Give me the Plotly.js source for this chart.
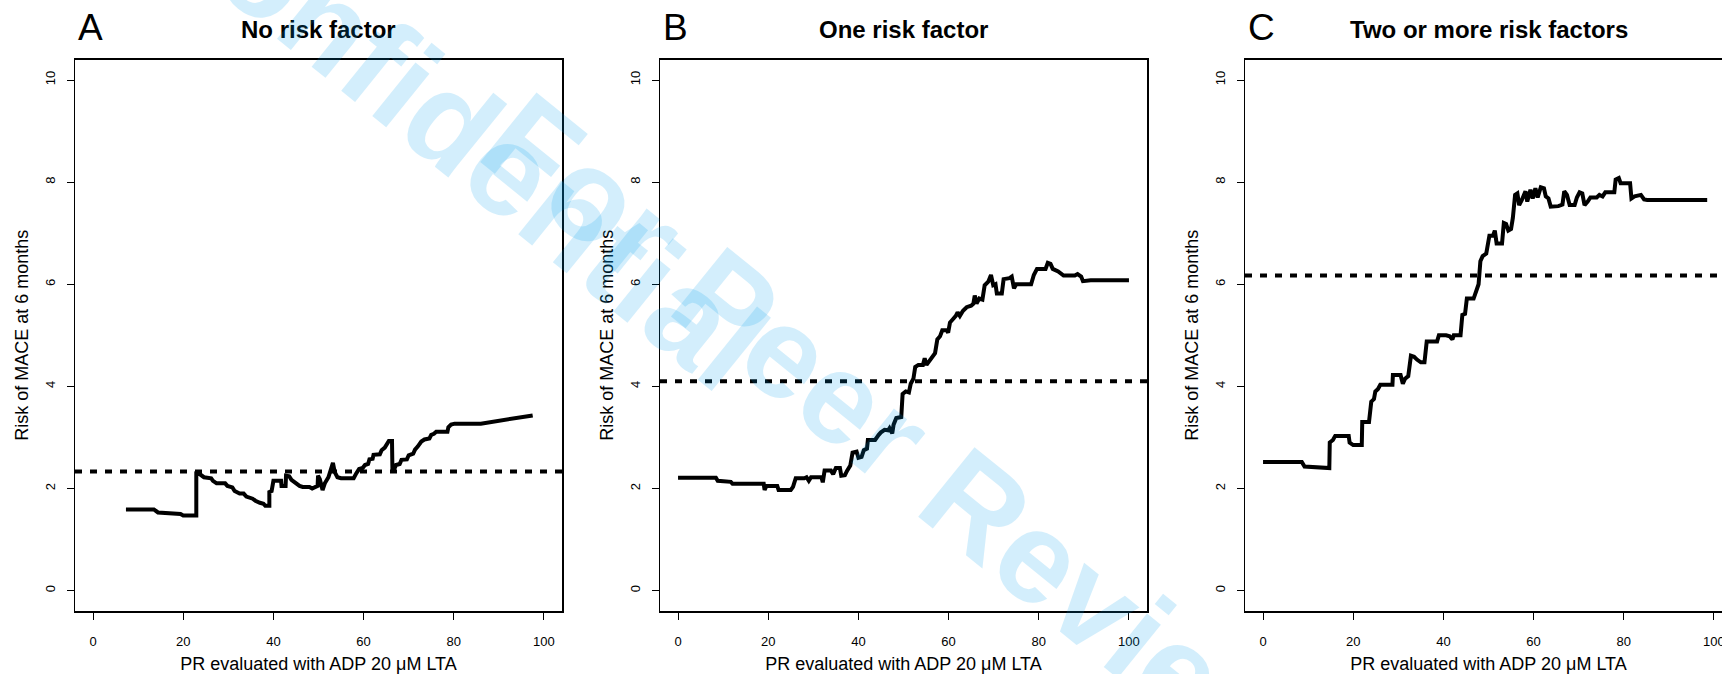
<!DOCTYPE html>
<html>
<head>
<meta charset="utf-8">
<script src="https://cdn.plot.ly/plotly-3.0.1.min.js"></script>
<style>
  html, body { margin: 0; padding: 0; overflow: hidden; background: #fff; }
  #chart { width: 1760px; height: 674px; }
</style>
</head>
<body>
<div id="chart"></div>
<script>
// Panel headings
const panelLetters = ["A", "B", "C"];
const panelTitles = ["No risk factor", "One risk factor", "Two or more risk factors"];

// Axis text and ticks
const xAxisTitle = "PR evaluated with ADP 20 \u03BCM LTA";
const yAxisTitle = "Risk of MACE at 6 months";
const xTickVals = [0, 20, 40, 60, 80, 100];
const yTickVals = [0, 2, 4, 6, 8, 10];

// Panel A: no risk factor
const prA = [7.3, 13.5, 14.4, 17.7, 19.4, 20.0, 22.9, 22.9, 23.8, 24.6, 26.2, 26.6, 27.4, 29.3, 29.8, 30.9, 31.4, 32.5, 33.4, 34.0,
  35.4, 36.0, 37.0, 37.8, 38.2, 39.1, 39.1, 39.6, 40.0, 41.7, 41.8, 42.7, 42.8, 43.5, 44.0, 45.0, 45.8, 46.5, 48.0, 48.6,
  49.4, 49.8, 49.9, 50.3, 50.9, 51.4, 52.2, 52.8, 53.2, 53.6, 54.2, 55.0, 57.8, 58.4, 59.0, 59.8, 60.3, 61.0, 61.3, 62.0,
  62.2, 63.6, 64.0, 64.7, 65.3, 65.6, 66.3, 66.4, 66.8, 67.2, 68.0, 68.4, 69.6, 70.0, 71.0, 71.4, 72.0, 72.8, 73.5, 74.6,
  75.0, 75.6, 76.1, 78.6, 78.8, 79.4, 80.2, 86.0, 97.5];
const riskA = [1.59, 1.59, 1.53, 1.52, 1.50, 1.47, 1.47, 2.33, 2.28, 2.22, 2.20, 2.15, 2.10, 2.10, 2.05, 2.02, 1.95, 1.90, 1.90, 1.84,
  1.80, 1.76, 1.72, 1.70, 1.66, 1.66, 1.93, 1.95, 2.15, 2.15, 2.05, 2.05, 2.25, 2.24, 2.17, 2.10, 2.05, 2.03, 2.03, 2.00,
  2.02, 2.05, 2.25, 2.18, 1.97, 2.10, 2.22, 2.38, 2.50, 2.32, 2.22, 2.20, 2.20, 2.30, 2.38, 2.40, 2.46, 2.48, 2.57, 2.58,
  2.66, 2.67, 2.75, 2.80, 2.88, 2.93, 2.93, 2.35, 2.38, 2.46, 2.48, 2.56, 2.57, 2.65, 2.68, 2.76, 2.82, 2.92, 2.96, 2.98,
  3.05, 3.07, 3.11, 3.11, 3.20, 3.25, 3.27, 3.27, 3.43];

// Panel B: one risk factor
const prB = [0, 8.4, 8.8, 11.7, 12.1, 19.0, 19.2, 19.6, 22.0, 22.3, 25.0, 25.5, 26.1, 28.0, 28.5, 29.0, 29.5, 31.8, 32.1, 32.5,
  33.9, 34.4, 35.0, 35.9, 36.2, 37.0, 37.5, 38.2, 38.7, 39.6, 40.0, 40.7, 41.2, 41.9, 42.1, 43.7, 44.5, 45.0, 45.8, 46.6,
  46.9, 47.5, 47.8, 48.4, 49.5, 49.8, 50.5, 51.2, 51.6, 52.2, 52.6, 53.3, 54.3, 54.7, 55.1, 55.8, 56.5, 57.0, 57.5, 58.1,
  58.6, 59.6, 59.9, 60.3, 61.0, 61.6, 62.0, 62.5, 63.2, 64.0, 65.0, 65.5, 65.8, 66.2, 66.8, 67.5, 68.0, 68.8, 69.4, 69.9,
  70.4, 70.7, 71.8, 72.2, 73.5, 74.0, 74.5, 75.0, 78.3, 78.9, 79.6, 81.5, 82.0, 82.6, 83.1, 84.3, 85.5, 88.0, 88.6, 89.4,
  89.8, 91.5, 100];
const riskB = [2.21, 2.21, 2.15, 2.13, 2.09, 2.09, 1.97, 2.05, 2.05, 1.97, 1.97, 2.03, 2.20, 2.20, 2.22, 2.15, 2.22, 2.22, 2.12, 2.35,
  2.35, 2.28, 2.40, 2.40, 2.25, 2.26, 2.35, 2.45, 2.70, 2.72, 2.60, 2.62, 2.75, 2.78, 2.95, 2.95, 3.05, 3.10, 3.15, 3.14,
  3.18, 3.08, 3.25, 3.38, 3.40, 3.85, 3.90, 3.88, 4.05, 4.15, 4.38, 4.42, 4.42, 4.55, 4.42, 4.50, 4.60, 4.65, 4.92, 4.98,
  5.10, 5.10, 5.05, 5.25, 5.32, 5.38, 5.45, 5.38, 5.48, 5.55, 5.58, 5.62, 5.78, 5.62, 5.72, 5.70, 5.98, 6.05, 6.18, 5.98,
  6.00, 5.82, 5.82, 6.10, 6.12, 6.15, 5.92, 6.00, 6.00, 6.18, 6.30, 6.30, 6.42, 6.40, 6.30, 6.25, 6.17, 6.17, 6.20, 6.15,
  6.06, 6.08, 6.08];

// Panel C: two or more risk factors
const prC = [0, 8.6, 9.2, 11.8, 12.2, 14.7, 14.8, 15.5, 16.0, 19.0, 19.2, 20.0, 21.9, 22.0, 23.5, 24.0, 24.6, 24.9, 25.5, 26.0,
  28.7, 28.8, 30.5, 31.0, 31.5, 32.2, 32.8, 33.5, 34.2, 35.0, 35.8, 36.3, 38.6, 39.0, 40.6, 41.4, 42.0, 42.3, 43.8, 44.2,
  44.8, 45.2, 46.7, 47.2, 47.8, 48.2, 48.7, 49.5, 50.2, 51.0, 51.4, 51.8, 53.0, 53.4, 53.9, 54.4, 55.0, 55.4, 55.9, 56.4,
  56.8, 57.4, 58.2, 58.6, 59.3, 59.8, 60.4, 60.9, 61.6, 62.3, 62.7, 63.3, 63.8, 65.5, 66.4, 66.8, 67.4, 68.0, 69.1, 69.6,
  70.2, 70.8, 71.3, 72.0, 72.6, 74.0, 74.6, 75.3, 75.9, 77.9, 78.2, 78.9, 79.3, 81.4, 81.7, 82.4, 83.8, 84.5, 85.2, 98.5];
const riskC = [2.52, 2.52, 2.43, 2.42, 2.40, 2.40, 2.90, 2.95, 3.03, 3.03, 2.90, 2.85, 2.85, 3.30, 3.30, 3.70, 3.75, 3.90, 3.95, 4.03,
  4.03, 4.22, 4.22, 4.05, 4.15, 4.20, 4.60, 4.58, 4.52, 4.47, 4.47, 4.88, 4.88, 5.00, 5.00, 4.98, 4.92, 5.00, 5.00, 5.40,
  5.42, 5.72, 5.72, 5.85, 6.00, 6.45, 6.55, 6.60, 6.95, 6.95, 7.05, 6.80, 6.80, 7.20, 7.18, 7.05, 7.08, 7.30, 7.75, 7.78,
  7.55, 7.65, 7.82, 7.62, 7.85, 7.68, 7.88, 7.70, 7.90, 7.88, 7.72, 7.68, 7.52, 7.53, 7.56, 7.82, 7.75, 7.55, 7.55, 7.70,
  7.80, 7.78, 7.55, 7.62, 7.70, 7.70, 7.75, 7.72, 7.80, 7.80, 8.05, 8.08, 7.98, 7.98, 7.68, 7.72, 7.75, 7.66, 7.65, 7.65];

// Overall risk in each group (horizontal reference lines)
const meanRisk = [2.33, 4.10, 6.17];

// Review watermark
const watermarkTexts = ["Confidential", "For Peer Review"];

const seriesX = [prA, prB, prC];
const seriesY = [riskA, riskB, riskC];

const W = 1760, H = 674;
const boxLeft = [75, 660, 1245];
const boxWidth = 487;
const boxTop = 59.6, boxBottom = 611;
const FONT = "Liberation Sans, Arial, Helvetica, sans-serif";

const traces = [];
const layout = {
  width: W, height: H,
  margin: { l: 0, r: 0, t: 0, b: 0 },
  paper_bgcolor: "#ffffff",
  plot_bgcolor: "#ffffff",
  showlegend: false,
  font: { family: FONT, color: "#000" },
  shapes: [],
  annotations: []
};

for (let i = 0; i < 3; i++) {
  const sfx = i === 0 ? "" : String(i + 1);
  traces.push({
    type: "scatter", mode: "lines",
    x: seriesX[i], y: seriesY[i],
    xaxis: "x" + sfx, yaxis: "y" + sfx,
    line: { color: "#000", width: 4 },
    hoverinfo: "skip"
  });

  const common = {
    showgrid: false, zeroline: false,
    showline: true, mirror: true, linecolor: "#000", linewidth: 1.5,
    ticks: "outside", ticklen: 7, tickwidth: 1, tickcolor: "#000",
    tickfont: { family: FONT, size: 13, color: "#000" },
    fixedrange: true
  };
  layout["xaxis" + sfx] = Object.assign({}, common, {
    domain: [boxLeft[i] / W, (boxLeft[i] + boxWidth) / W],
    anchor: "y" + sfx,
    range: [-4, 104],
    tickmode: "array", tickvals: xTickVals, ticktext: xTickVals.map(String),
    ticklabelstandoff: 11,
    title: { text: xAxisTitle, font: { family: FONT, size: 18, color: "#000" }, standoff: 10 }
  });
  layout["yaxis" + sfx] = Object.assign({}, common, {
    domain: [(H - boxBottom) / H, (H - boxTop) / H],
    anchor: "x" + sfx,
    range: [-0.4, 10.4],
    tickmode: "array", tickvals: yTickVals, ticktext: yTickVals.map(String),
    tickangle: -90,
    ticklabelstandoff: 6,
    title: { text: yAxisTitle, font: { family: FONT, size: 18, color: "#000" }, standoff: 10 }
  });

  layout.shapes.push({
    type: "line", xref: "x" + sfx + " domain", yref: "y" + sfx,
    x0: 0, x1: 1, y0: meanRisk[i], y1: meanRisk[i],
    line: { color: "#000", width: 4, dash: "7px,8px" }
  });

  layout.annotations.push({
    xref: "paper", yref: "paper",
    x: (boxLeft[i] + 1) / W, y: 1 - 28 / H,
    xanchor: "left", yanchor: "middle",
    text: panelLetters[i], showarrow: false,
    font: { family: FONT, size: 37, color: "#000" }
  });
  layout.annotations.push({
    xref: "paper", yref: "paper",
    x: (boxLeft[i] + boxWidth / 2) / W, y: 1 - 30 / H,
    xanchor: "center", yanchor: "middle",
    text: "<b>" + panelTitles[i] + "</b>", showarrow: false,
    font: { family: FONT, size: 24, color: "#000" }
  });
}

// Diagonal watermark, translucent so the curves stay dark beneath it
const wmCenters = [[455, 125], [895, 440]];
watermarkTexts.forEach((t, k) => {
  layout.annotations.push({
    xref: "paper", yref: "paper",
    x: wmCenters[k][0] / W, y: 1 - wmCenters[k][1] / H,
    xanchor: "center", yanchor: "middle",
    text: "<b>" + t + "</b>", showarrow: false,
    textangle: 39, opacity: 0.17,
    font: { family: FONT, size: 130, color: "rgb(0,160,240)" }
  });
});

Plotly.newPlot("chart", traces, layout, { staticPlot: true, displayModeBar: false });
</script>
</body>
</html>
